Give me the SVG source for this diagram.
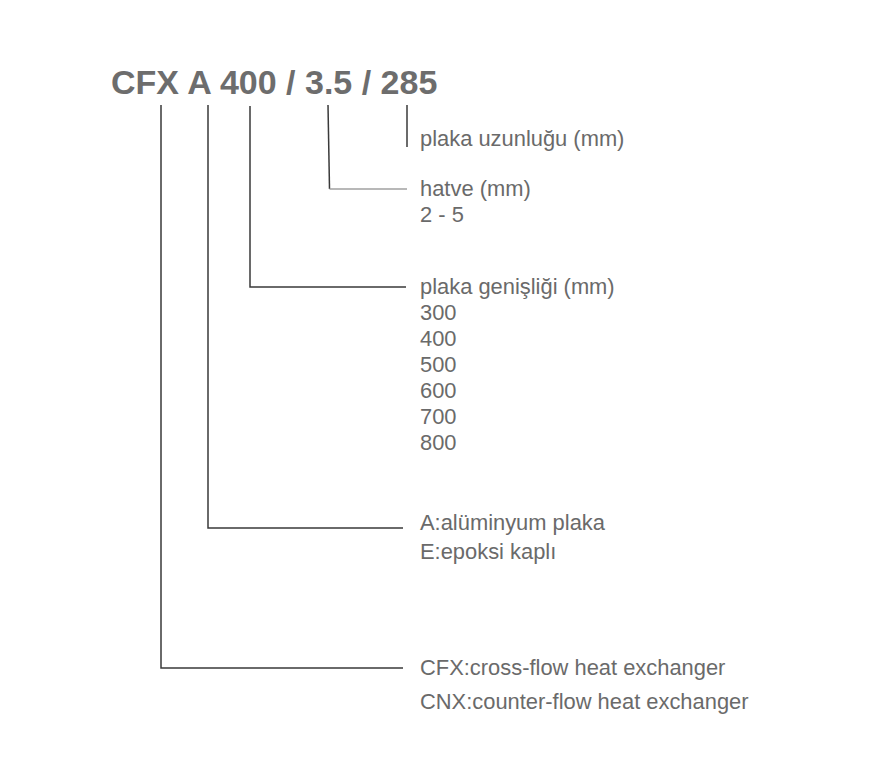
<svg xmlns="http://www.w3.org/2000/svg" width="894" height="768" viewBox="0 0 894 768">
<style>
.t{font-family:"Liberation Sans",Arial,sans-serif;fill:#6a6a6a;font-size:21.9px}
.h{font-family:"Liberation Sans",Arial,sans-serif;fill:#6d6d6d;font-size:34px;font-weight:bold}
.c{fill:none;stroke:#3a3a3a;stroke-width:1.5}
.l{fill:none;stroke:#a0a0a0;stroke-width:1.5}
</style>
<rect width="894" height="768" fill="#ffffff"/>
<g id="code"><text class="h" x="111" y="94">CFX A 400 / 3.5 / 285</text></g>
<g id="connectors">
<path class="c" d="M161,105 V668 H403"/>
<path class="c" d="M208,105 V528 H403"/>
<path class="c" d="M250,106 V287 H406"/>
<path class="c" d="M328,105 L329.5,189"/>
<path class="l" d="M329.5,189 H407"/>
<path class="c" d="M407,105 V147"/>
</g>
<g id="length"><text class="t" x="420" y="146">plaka uzunluğu (mm)</text></g>
<g id="pitch"><text class="t" x="420" y="196">hatve (mm)</text><text class="t" x="420" y="222">2 - 5</text></g>
<g id="width"><text class="t" x="420" y="294">plaka genişliği (mm)</text>
<text class="t" x="420" y="320">300</text><text class="t" x="420" y="346">400</text><text class="t" x="420" y="372">500</text>
<text class="t" x="420" y="398">600</text><text class="t" x="420" y="424">700</text><text class="t" x="420" y="450">800</text></g>
<g id="material"><text class="t" x="420" y="530">A:alüminyum plaka</text><text class="t" x="420" y="559">E:epoksi kaplı</text></g>
<g id="type"><text class="t" x="420" y="675">CFX:cross-flow heat exchanger</text><text class="t" x="420" y="709">CNX:counter-flow heat exchanger</text></g>
</svg>
